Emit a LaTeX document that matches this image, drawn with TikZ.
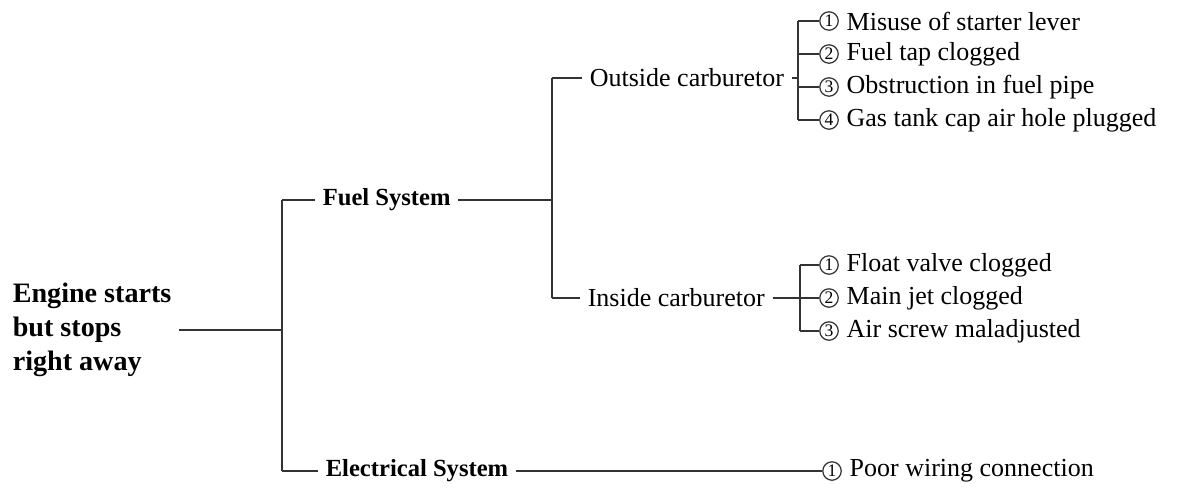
\documentclass[tikz,border=0pt]{standalone}
\usepackage{fontspec}
\setmainfont{Liberation Serif}
\usetikzlibrary{positioning}

\begin{document}
\begin{tikzpicture}[x=0.02cm, y=-0.02cm, line width=0.9pt, draw=black!80,
        root/.style={align=left, inner sep=4pt, font=\bfseries\fontsize{16}{19.5}\selectfont},
        grp/.style={inner sep=4pt, font=\bfseries\fontsize{14}{17}\selectfont},
        lbl/.style={inner sep=4pt, font=\fontsize{14.8}{17}\selectfont},
        num/.style={circle, draw, line width=0.7pt, inner sep=0pt, minimum size=10.5pt, font=\fontsize{10}{10}\selectfont}
    ]
    \useasboundingbox (0,0) rectangle (1179,487);

    % Engine starts but stops
    \node[root, anchor=west] (eng) at (5,330) {Engine starts\\but stops\\right away};
    \coordinate (t1) at (282,200);
    \coordinate (t2) at (282,471);
    \draw (t1) -- (t2);
    \draw (eng.east) -- (eng.east -| t1);

    % Fuel System
    \node[grp, anchor=west] (fuel) at (315,200) {Fuel System};
    \draw (t1) -- (fuel.west);
    \coordinate (c1) at (552,78);
    \coordinate (c2) at (552,298);
    \draw (c1) -- (c2);
    \draw (fuel.east) -- (fuel.east -| c1);

    % Outside carburetor
    \node[lbl, anchor=west] (out) at (582,78) {Outside carburetor};
    \draw (c1) -- (out.west);
    \coordinate (d1) at (798,21);
    \coordinate (d2) at (798,120);
    \draw (d1) -- (d2);
    \draw (out.east) -- (out.east -| d1);
    \foreach \n/\y/\t in {1/21/Misuse of starter lever, 2/54/Fuel tap clogged,
        3/87/Obstruction in fuel pipe, 4/120/Gas tank cap air hole plugged} {
        \node[num] (o\n) at (829,\y) {\n};
        \node[lbl, right=0pt of o\n] (ot\n) {\t};
        \draw (o\n.west -| d1) -- (o\n);
    }

    % Inside carburetor
    \node[lbl, anchor=west] (ins) at (580,298) {Inside carburetor};
    \draw (c2) -- (ins.west);
    \coordinate (e1) at (800,265);
    \coordinate (e2) at (800,331);
    \draw (e1) -- (e2);
    \draw (ins.east) -- (ins.east -| e1);
    \foreach \n/\y/\t in {1/265/Float valve clogged, 2/298/Main jet clogged,
        3/331/Air screw maladjusted} {
        \node[num] (i\n) at (829,\y) {\n};
        \node[lbl, right=0pt of i\n] (it\n) {\t};
        \draw (i\n.west -| e1) -- (i\n);
    }

    % Electrical System
    \node[grp, anchor=west] (elec) at (318,471) {Electrical System};
    \draw (t2) -- (elec.west);
    \node[num] (p1) at (832,471) {1};
    \node[lbl, right=0pt of p1] (pt1) {Poor wiring connection};
    \draw (elec.east) -- (p1);
\end{tikzpicture}
\end{document}
